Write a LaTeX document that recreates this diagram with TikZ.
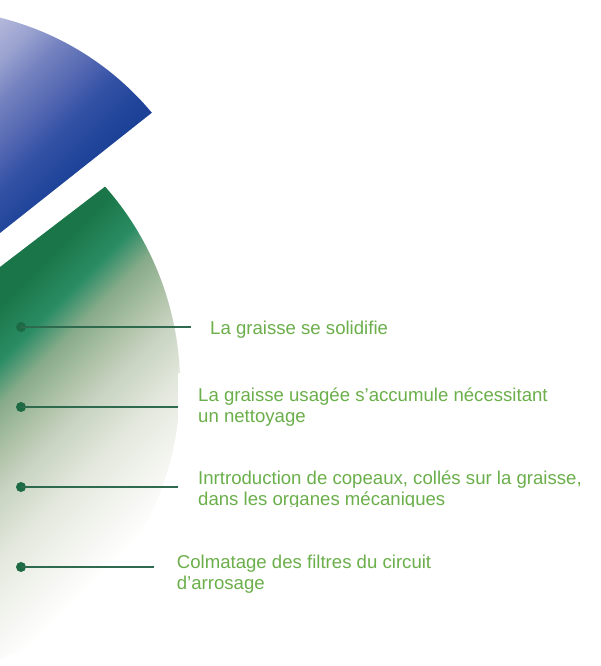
\documentclass[tikz,border=0pt]{standalone}
\usepackage{fontspec}
\setmainfont{Liberation Sans}
\definecolor{bA}{HTML}{B2B6DA}
\definecolor{bB}{HTML}{9AA2D0}
\definecolor{bC}{HTML}{7583C0}
\definecolor{bD}{HTML}{5468B2}
\definecolor{bE}{HTML}{3452A6}
\definecolor{bF}{HTML}{1F4499}
\definecolor{bG}{HTML}{1A4096}
\definecolor{gA}{HTML}{1A7648}
\definecolor{gB}{HTML}{2A8C64}
\definecolor{gC}{HTML}{86AB8A}
\definecolor{gD}{HTML}{AEC2A6}
\definecolor{gE}{HTML}{C9D4C2}
\definecolor{gF}{HTML}{E3E8DD}
\definecolor{gG}{HTML}{F3F4EF}
\definecolor{textgreen}{HTML}{6BAF4B}
\definecolor{dotgreen}{HTML}{1D6B45}
\definecolor{linegreen}{HTML}{2E6A4E}
\pgfdeclareverticalshading{bluefade}{100bp}{color(0bp)=(bG); color(43.9bp)=(bG); color(46.55bp)=(bF); color(50.97bp)=(bE); color(54.51bp)=(bD); color(58.93bp)=(bC); color(62.47bp)=(bB); color(66bp)=(bA); color(100bp)=(bA)}
\pgfdeclareverticalshading{greenfade}{100bp}{color(0bp)=(white); color(41.47bp)=(white); color(44.33bp)=(gG); color(47.54bp)=(gF); color(50.76bp)=(gE); color(52.9bp)=(gD); color(55.4bp)=(gC); color(57.54bp)=(gB); color(60.4bp)=(gA); color(100bp)=(gA)}
\tikzset{
  dotnode/.style={circle, fill=dotgreen, inner sep=0pt, minimum size=10pt},
  leadline/.style={draw=linegreen, line width=1.7pt},
  lbltext/.style={anchor=base west, inner sep=0pt, text=textgreen, align=left, font=\fontsize{18.6}{21}\selectfont}
}
\begin{document}
\begin{tikzpicture}[x=1pt,y=1pt]
\useasboundingbox (0,0) rectangle (601,666);
\fill[white] (0,0) rectangle (601,666);
% blue wedge
\begin{scope}
\clip (0,648.3) arc[start angle=76.1, end angle=39.8, radius=287.5] -- (0,433) -- cycle;
\shade[shading=bluefade, shading angle=45] (-124,341) rectangle (276,741);
\end{scope}
% green wedge
\begin{scope}
\clip (0,399) -- (105.1,479.4) arc[start angle=41.4, end angle=-66.4, radius=300] -- cycle;
\shade[shading=greenfade, shading angle=45] (-260,-104) rectangle (440,596);
\end{scope}
% labels (multi-line nodes: base anchor = baseline of last line)
\node[lbltext] (t1) at (210,331) {La graisse se solidifie};
\begin{scope}
\clip (178,159) rectangle (601,293);
\fill[white] (178,159) rectangle (601,293);
\node[lbltext] (t2) at (198,243) {La graisse usagée s’accumule nécessitant\\un nettoyage};
\node[lbltext] (t3) at (198,160.5) {Inrtroduction de copeaux, collés sur la graisse,\\dans les organes mécaniques};
\end{scope}
\node[lbltext] (t4) at (176.7,76.5) {Colmatage des filtres du circuit\\d’arrosage};
% markers
\node[dotnode] (d1) at (21,339) {};
\node[dotnode] (d2) at (21,259) {};
\node[dotnode] (d3) at (21,179) {};
\node[dotnode] (d4) at (21,99) {};
\coordinate (e1) at (191,339);
\coordinate (e2) at (178,259);
\coordinate (e3) at (178,179);
\coordinate (e4) at (154,99);
\draw[leadline] (d1.center) -- (e1);
\draw[leadline] (d2.center) -- (e2);
\draw[leadline] (d3.center) -- (e3);
\draw[leadline] (d4.center) -- (e4);
\end{tikzpicture}
\end{document}
